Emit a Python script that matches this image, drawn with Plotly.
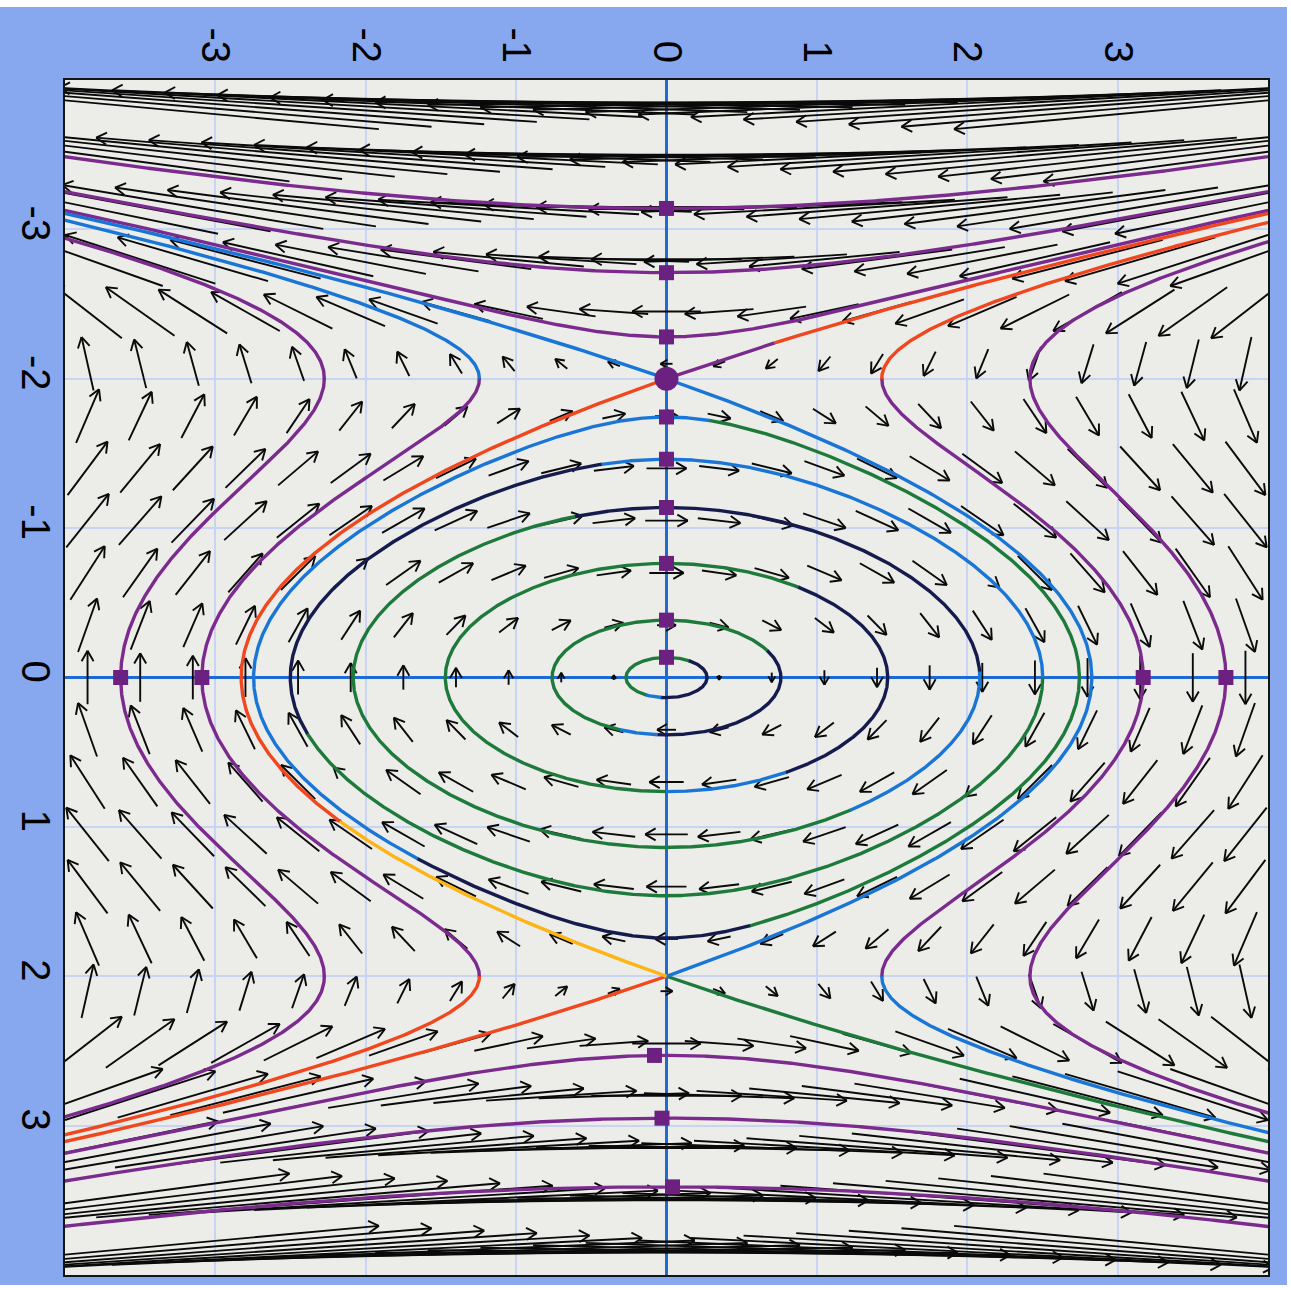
import numpy as np
import plotly.graph_objects as go

# Phase plane of the conservative system
#     dx/dt = -4 y + y^3,   dy/dt = x
# centre at the origin, saddles at (0, -2) and (0, 2); the y axis runs downwards.

AXIS_LIMIT = 4.0
TICK_VALUES = [-3, -2, -1, 0, 1, 2, 3]
TICK_LABELS = ["-3", "-2", "-1", "0", "1", "2", "3"]

# direction field: square lattice of arrows centred on the grid points
FIELD_STEP = 0.35
FIELD_HALF_COUNT = 11
ARROW_SCALE = 0.093          # arrow length (data units) per unit of speed

# closed orbits, started on the upper half of the y axis (x = 0)
CLOSED_Y0 = [-0.135, -0.384, -0.764, -1.138, -1.461, -1.744]
# colour schedule along each closed orbit: (start angle in degrees, colour key),
# angle measured clockwise from the starting point at the top
CLOSED_SCHEDULE = [
    [(0, "green"), (34, "navy"), (187.5, "blue"), (210, "green")],
    [(0, "green"), (62, "navy"), (184.5, "blue"), (204, "green")],
    [(0, "green"), (37, "navy"), (147, "blue"), (180, "green")],
    [(0, "navy"), (88, "blue"), (143, "green"), (343, "navy")],
    [(0, "blue"), (90, "green"), (255, "navy"), (350, "blue")],
    [(0, "blue"), (6, "green"), (168, "navy"), (221, "blue")],
]

# unbounded orbits above the upper saddle and below the lower saddle
UPPER_START_X = [0.0, 0.0, 0.0]
UPPER_START_Y = [-3.14, -2.71, -2.28]
LOWER_START_X = [-0.08, -0.03, 0.04]
LOWER_START_Y = [2.53, 2.95, 3.41]

# unbounded orbits on both sides, started on the x axis
SIDE_X0 = [-3.63, -3.09, 3.17, 3.72]
# colours for the parts with y < -2, -2 <= y <= 2, y > 2
SIDE_COLOURS = [
    ("purple", "purple", "purple"),
    ("blue", "purple", "red"),
    ("red", "purple", "blue"),
    ("purple", "purple", "purple"),
]

# separatrices x = s * sqrt(2) * (2 - y^2 / 2); pieces as (s, y from, y to, colour)
SEPARATRIX_PIECES = [
    (1, -4.4, 2.0, "blue"),
    (1, 2.0, 4.4, "red"),
    (-1, -4.4, -2.24, "red"),
    (-1, -2.24, -2.0, "purple"),
    (-1, -2.0, 0.963, "red"),
    (-1, 0.963, 2.0, "orange"),
    (-1, 2.0, 4.4, "green"),
]

SADDLE_X = [0.0]
SADDLE_Y = [-2.0]

COLOURS = {
    "purple": "#7B2A8D",
    "blue": "#1976D6",
    "green": "#1E7A3B",
    "navy": "#161B4D",
    "red": "#F0471F",
    "orange": "#FDB417",
}
MARKER_COLOUR = "#6C2180"

# plot-area geometry in pixels (used to shape the arrow heads)
FIG_W, FIG_H = 1291, 1290
MARGIN = dict(l=65, r=23, t=80, b=15)
PX_X = (FIG_W - MARGIN["l"] - MARGIN["r"]) / (2 * AXIS_LIMIT)
PX_Y = (FIG_H - MARGIN["t"] - MARGIN["b"]) / (2 * AXIS_LIMIT)


def field(x, y):
    return -4.0 * y + y ** 3, x


def rk4_step(x, y, dt):
    k1 = field(x, y)
    k2 = field(x + 0.5 * dt * k1[0], y + 0.5 * dt * k1[1])
    k3 = field(x + 0.5 * dt * k2[0], y + 0.5 * dt * k2[1])
    k4 = field(x + dt * k3[0], y + dt * k3[1])
    return (x + dt / 6 * (k1[0] + 2 * k2[0] + 2 * k3[0] + k4[0]),
            y + dt / 6 * (k1[1] + 2 * k2[1] + 2 * k3[1] + k4[1]))


def integrate(x, y, direction, max_steps=20000, box=4.5, t_max=40.0):
    """RK4 with a step shrinking where the flow is fast."""
    xs, ys = [x], [y]
    t = 0.0
    for _ in range(max_steps):
        fx, fy = field(x, y)
        dt = direction * 0.008 / max(np.hypot(fx, fy), 1.0)
        x, y = rk4_step(x, y, dt)
        t += abs(dt)
        xs.append(x)
        ys.append(y)
        if abs(x) > box or abs(y) > box or t > t_max:
            break
    return np.array(xs), np.array(ys)


def closed_orbit(y0):
    energy = 2 * y0 ** 2 - y0 ** 4 / 4
    xmax = np.sqrt(2 * energy)
    xs, ys, angles = [0.0], [y0], [0.0]
    x, y = 0.0, y0
    total, prev = 0.0, 0.0
    while total < 360.0:
        fx, fy = field(x, y)
        dt = 0.004 / max(np.hypot(fx, fy), 0.5)
        x, y = rk4_step(x, y, dt)
        a = np.degrees(np.arctan2(x / xmax, -y / abs(y0)))
        total += (a - prev + 180.0) % 360.0 - 180.0
        prev = a
        xs.append(x)
        ys.append(y)
        angles.append(min(total, 360.0))
    return np.array(xs), np.array(ys), np.array(angles)


segments = {k: ([], []) for k in COLOURS}


def add_segment(colour, xs, ys):
    sx, sy = segments[colour]
    sx.extend(list(xs) + [None])
    sy.extend(list(ys) + [None])


def split_by(values, xs, ys, bounds_colours):
    """bounds_colours: list of (lo, hi, colour) on 'values'."""
    for lo, hi, c in bounds_colours:
        idx = np.where((values >= lo) & (values <= hi))[0]
        if len(idx) == 0:
            continue
        runs = np.split(idx, np.where(np.diff(idx) > 1)[0] + 1)
        for r in runs:
            a = max(r[0] - 1, 0)
            b = min(r[-1] + 2, len(xs))
            add_segment(c, xs[a:b], ys[a:b])


# closed orbits
for y0, sched in zip(CLOSED_Y0, CLOSED_SCHEDULE):
    xs, ys, ang = closed_orbit(y0)
    bounds = []
    for i, (a0, c) in enumerate(sched):
        a1 = sched[i + 1][0] if i + 1 < len(sched) else 360.0
        bounds.append((a0, a1, c))
    split_by(ang, xs, ys, bounds)


def open_orbit(x0, y0):
    bx, by = integrate(x0, y0, -1.0)
    fx, fy = integrate(x0, y0, 1.0)
    return np.concatenate([bx[::-1], fx[1:]]), np.concatenate([by[::-1], fy[1:]])


for x0, y0 in zip(UPPER_START_X + LOWER_START_X, UPPER_START_Y + LOWER_START_Y):
    xs, ys = open_orbit(x0, y0)
    add_segment("purple", xs, ys)

for x0, cols in zip(SIDE_X0, SIDE_COLOURS):
    xs, ys = open_orbit(x0, 0.0)
    split_by(ys, xs, ys, [(-9, -2.0, cols[0]), (-2.0, 2.0, cols[1]), (2.0, 9, cols[2])])

for s, ya, yb, c in SEPARATRIX_PIECES:
    yy = np.linspace(ya, yb, 400)
    xx = s * np.sqrt(2) * (2 - yy ** 2 / 2)
    add_segment(c, xx, yy)

# direction field arrows
grid = FIELD_STEP * np.arange(-FIELD_HALF_COUNT, FIELD_HALF_COUNT + 1)
GX, GY = np.meshgrid(grid, grid)
ax_, ay_ = [], []
for px, py in zip(GX.ravel(), GY.ravel()):
    u, v = field(px, py)
    sp = np.hypot(u, v)
    if sp < 1e-9:
        continue
    half = 0.5 * ARROW_SCALE * sp
    dx, dy = u / sp, v / sp
    tx, ty = px - half * dx, py - half * dy
    hx, hy = px + half * dx, py + half * dy
    dpx, dpy = u * PX_X, v * PX_Y
    n = np.hypot(dpx, dpy)
    dpx, dpy = dpx / n, dpy / n
    length_px = 2 * half * PX_X
    hl = min(12.0, 0.5 * length_px + 2.0)
    ax_ += [tx, hx, None]
    ay_ += [ty, hy, None]
    for ang in (np.radians(30), -np.radians(30)):
        rx = dpx * np.cos(ang) - dpy * np.sin(ang)
        ry = dpx * np.sin(ang) + dpy * np.cos(ang)
        ax_ += [hx - hl * rx / PX_X, hx, None]
        ay_ += [hy - hl * ry / PX_Y, hy, None]

fig = go.Figure()
fig.add_trace(go.Scatter(x=ax_, y=ay_, mode="lines",
                         line=dict(color="#0A0A0A", width=1.9),
                         hoverinfo="skip", showlegend=False))

for key in ["purple", "green", "navy", "blue", "red", "orange"]:
    sx, sy = segments[key]
    fig.add_trace(go.Scatter(x=sx, y=sy, mode="lines",
                             line=dict(color=COLOURS[key], width=3.4),
                             hoverinfo="skip", showlegend=False))

start_x = [0.0] * len(CLOSED_Y0) + UPPER_START_X + LOWER_START_X + SIDE_X0
start_y = CLOSED_Y0 + UPPER_START_Y + LOWER_START_Y + [0.0] * len(SIDE_X0)
fig.add_trace(go.Scatter(x=start_x, y=start_y, mode="markers",
                         marker=dict(symbol="square", size=15, color=MARKER_COLOUR),
                         hoverinfo="skip", showlegend=False))
fig.add_trace(go.Scatter(x=SADDLE_X, y=SADDLE_Y, mode="markers",
                         marker=dict(symbol="circle", size=24, color=MARKER_COLOUR),
                         hoverinfo="skip", showlegend=False))

axis_common = dict(
    range=[-AXIS_LIMIT, AXIS_LIMIT], automargin=False,
    tickvals=TICK_VALUES, ticktext=TICK_LABELS, tickangle=90,
    tickfont=dict(family="Liberation Sans", size=40, color="#000000"),
    ticks="outside", ticklen=1, tickcolor="rgba(0,0,0,0)",
    showgrid=True, gridcolor="#C9D4F4", gridwidth=2,
    zeroline=True, zerolinecolor="#1E6AD4", zerolinewidth=2.5,
    showline=True, linecolor="#141414", linewidth=2, mirror=True,
)
fig.update_xaxes(side="top", **axis_common)
fig.update_yaxes(**{**axis_common, "range": [AXIS_LIMIT, -AXIS_LIMIT]})
fig.update_yaxes(ticklabelstandoff=-8)

# light-blue frame with a thin white edge on the top, right and bottom
plot_w = FIG_W - MARGIN["l"] - MARGIN["r"]
plot_h = FIG_H - MARGIN["t"] - MARGIN["b"]


def px_to_paper_x(p):
    return (p - MARGIN["l"]) / plot_w


def px_to_paper_y(p):
    return (FIG_H - MARGIN["b"] - p) / plot_h


white_strips = [
    (0, 0, FIG_W, 7),
    (1287, 0, FIG_W, FIG_H),
    (0, 1285, FIG_W, FIG_H),
]
shapes = []
for x0, y0, x1, y1 in white_strips:
    shapes.append(dict(type="rect", xref="paper", yref="paper",
                       x0=px_to_paper_x(x0), x1=px_to_paper_x(x1),
                       y0=px_to_paper_y(y1), y1=px_to_paper_y(y0),
                       fillcolor="white", line=dict(width=0), layer="below"))

fig.update_layout(
    width=FIG_W, height=FIG_H, margin=MARGIN,
    paper_bgcolor="#87A8EE", plot_bgcolor="#ECECE9",
    shapes=shapes, showlegend=False,
)

fig.write_html("out.html")
